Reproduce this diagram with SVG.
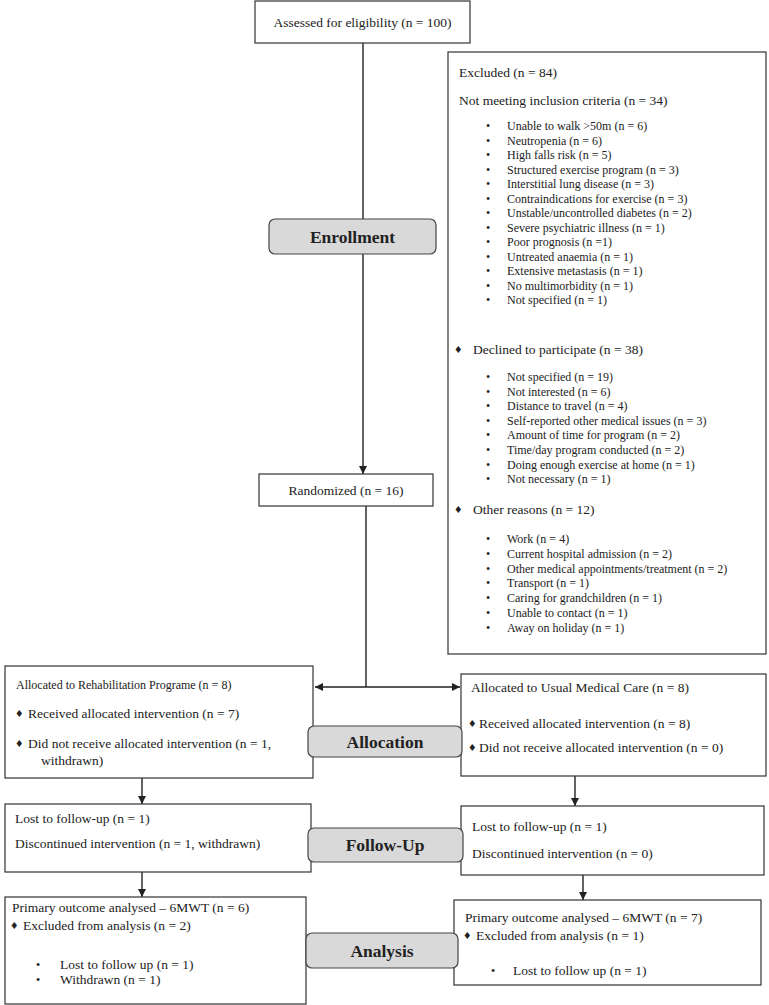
<svg xmlns="http://www.w3.org/2000/svg" width="769" height="1005" viewBox="0 0 769 1005">
<style>
text{font-family:"Liberation Serif","Times New Roman",serif;fill:#222}
.box{fill:#fff;stroke:#333;stroke-width:1.2}
.lbl{fill:#d9d9d9;stroke:#444;stroke-width:1.2}
.lt{font-size:17.5px;font-weight:bold;text-anchor:middle}
.h{font-size:13.5px}
.s{font-size:12px}
.d{font-size:9.5px;font-family:"DejaVu Sans",sans-serif}
.c{fill:none;stroke:#222;stroke-width:1.4}
</style>
<defs>
<marker id="ah" viewBox="0 0 10 10" refX="10" refY="5" markerWidth="8" markerHeight="8" markerUnits="userSpaceOnUse" orient="auto-start-reverse">
<path d="M0,0 L10,5 L0,10 z" fill="#222"/>
</marker>
</defs>
<g id="connectors">
<line class="c" x1="363" y1="43" x2="363" y2="474" marker-end="url(#ah)"/>
<line class="c" x1="366" y1="506" x2="366" y2="687"/>
<line class="c" x1="315" y1="687" x2="460" y2="687" marker-start="url(#ah)" marker-end="url(#ah)"/>
<line class="c" x1="142" y1="778" x2="142" y2="804" marker-end="url(#ah)"/>
<line class="c" x1="142" y1="872" x2="142" y2="897" marker-end="url(#ah)"/>
<line class="c" x1="575" y1="776" x2="575" y2="806" marker-end="url(#ah)"/>
<line class="c" x1="583" y1="875" x2="583" y2="900" marker-end="url(#ah)"/>
</g>
<g id="assessed">
<rect class="box" x="255" y="1" width="215" height="42"/>
<text class="h" x="362.5" y="27" text-anchor="middle">Assessed for eligibility (n = 100)</text>
</g>
<g id="enrollment">
<rect class="lbl" x="269" y="219" width="167" height="35" rx="6"/>
<text class="lt" x="352.5" y="243">Enrollment</text>
</g>
<g id="excluded">
<rect class="box" x="448" y="52" width="318" height="602"/>
<text class="h" x="459" y="77">Excluded (n = 84)</text>
<text class="h" x="459" y="105">Not meeting inclusion criteria (n = 34)</text>
<g class="s">
<text x="486" y="130">•</text><text x="507" y="130">Unable to walk &gt;50m (n = 6)</text>
<text x="486" y="144.5">•</text><text x="507" y="144.5">Neutropenia (n = 6)</text>
<text x="486" y="159">•</text><text x="507" y="159">High falls risk (n = 5)</text>
<text x="486" y="173.5">•</text><text x="507" y="173.5">Structured exercise program (n = 3)</text>
<text x="486" y="188">•</text><text x="507" y="188">Interstitial lung disease (n = 3)</text>
<text x="486" y="202.5">•</text><text x="507" y="202.5">Contraindications for exercise (n = 3)</text>
<text x="486" y="217">•</text><text x="507" y="217">Unstable/uncontrolled diabetes (n = 2)</text>
<text x="486" y="231.5">•</text><text x="507" y="231.5">Severe psychiatric illness (n = 1)</text>
<text x="486" y="246">•</text><text x="507" y="246">Poor prognosis (n =1)</text>
<text x="486" y="260.5">•</text><text x="507" y="260.5">Untreated anaemia (n = 1)</text>
<text x="486" y="275">•</text><text x="507" y="275">Extensive metastasis (n = 1)</text>
<text x="486" y="289.5">•</text><text x="507" y="289.5">No multimorbidity (n = 1)</text>
<text x="486" y="304">•</text><text x="507" y="304">Not specified (n = 1)</text>
</g>
<text class="d" x="454" y="352.5">♦</text>
<text class="h" x="473" y="353.5">Declined to participate (n = 38)</text>
<g class="s">
<text x="486" y="381">•</text><text x="507" y="381">Not specified (n = 19)</text>
<text x="486" y="395.6">•</text><text x="507" y="395.6">Not interested (n = 6)</text>
<text x="486" y="410.2">•</text><text x="507" y="410.2">Distance to travel (n = 4)</text>
<text x="486" y="424.8">•</text><text x="507" y="424.8">Self-reported other medical issues (n = 3)</text>
<text x="486" y="439.4">•</text><text x="507" y="439.4">Amount of time for program (n = 2)</text>
<text x="486" y="454">•</text><text x="507" y="454">Time/day program conducted (n = 2)</text>
<text x="486" y="468.6">•</text><text x="507" y="468.6">Doing enough exercise at home (n = 1)</text>
<text x="486" y="483.2">•</text><text x="507" y="483.2">Not necessary (n = 1)</text>
</g>
<text class="d" x="454" y="512.5">♦</text>
<text class="h" x="473" y="513.5">Other reasons (n = 12)</text>
<g class="s">
<text x="486" y="543">•</text><text x="507" y="543">Work (n = 4)</text>
<text x="486" y="557.8">•</text><text x="507" y="557.8">Current hospital admission (n = 2)</text>
<text x="486" y="572.6">•</text><text x="507" y="572.6">Other medical appointments/treatment (n = 2)</text>
<text x="486" y="587.4">•</text><text x="507" y="587.4">Transport (n = 1)</text>
<text x="486" y="602.2">•</text><text x="507" y="602.2">Caring for grandchildren (n = 1)</text>
<text x="486" y="617">•</text><text x="507" y="617">Unable to contact (n = 1)</text>
<text x="486" y="631.8">•</text><text x="507" y="631.8">Away on holiday (n = 1)</text>
</g>
</g>
<g id="randomized">
<rect class="box" x="259" y="474" width="174" height="32"/>
<text class="h" x="346" y="494.5" text-anchor="middle">Randomized (n = 16)</text>
</g>
<g id="alloc-rehab">
<rect class="box" x="5" y="666" width="308" height="112"/>
<text class="s" x="16" y="689">Allocated to Rehabilitation Programe (n = 8)</text>
<text class="d" x="15" y="716.5">♦</text>
<text class="h" x="28" y="717.5">Received allocated intervention (n = 7)</text>
<text class="d" x="15" y="746.5">♦</text>
<text class="h" x="28" y="747.5">Did not receive allocated intervention (n = 1,</text>
<text class="h" x="41" y="764.5">withdrawn)</text>
</g>
<g id="alloc-usual">
<rect class="box" x="461" y="674" width="305" height="102"/>
<text class="h" x="471" y="691.5">Allocated to Usual Medical Care (n = 8)</text>
<text class="d" x="468" y="726.5">♦</text>
<text class="h" x="479" y="727.5">Received allocated intervention (n = 8)</text>
<text class="d" x="468" y="750.5">♦</text>
<text class="h" x="479" y="751.5">Did not receive allocated intervention (n = 0)</text>
</g>
<g id="allocation">
<rect class="lbl" x="308" y="726" width="154" height="31" rx="6"/>
<text class="lt" x="385" y="747.5">Allocation</text>
</g>
<g id="followup-rehab">
<rect class="box" x="5" y="804" width="306" height="68"/>
<text class="h" x="15" y="822.5">Lost to follow-up (n = 1)</text>
<text class="h" x="15" y="847.5">Discontinued intervention (n = 1, withdrawn)</text>
</g>
<g id="followup-usual">
<rect class="box" x="461" y="806" width="303" height="69"/>
<text class="h" x="472" y="830.5">Lost to follow-up (n = 1)</text>
<text class="h" x="472" y="857.5">Discontinued intervention (n = 0)</text>
</g>
<g id="followup">
<rect class="lbl" x="308" y="828" width="155" height="34" rx="6"/>
<text class="lt" x="385" y="851">Follow-Up</text>
</g>
<g id="analysis-rehab">
<rect class="box" x="5" y="897" width="301" height="107"/>
<text class="h" x="12" y="911.5">Primary outcome analysed – 6MWT (n = 6)</text>
<text class="d" x="10" y="928.5">♦</text>
<text class="h" x="23" y="929.5">Excluded from analysis (n = 2)</text>
<text class="s" x="36" y="969">•</text><text class="h" x="60" y="969">Lost to follow up (n = 1)</text>
<text class="s" x="36" y="984">•</text><text class="h" x="60" y="984">Withdrawn (n = 1)</text>
</g>
<g id="analysis-usual">
<rect class="box" x="454" y="900" width="307" height="85"/>
<text class="h" x="465" y="921.5">Primary outcome analysed – 6MWT (n = 7)</text>
<text class="d" x="463" y="938.5">♦</text>
<text class="h" x="476" y="939.5">Excluded from analysis (n = 1)</text>
<text class="s" x="491" y="974.5">•</text><text class="h" x="513" y="974.5">Lost to follow up (n = 1)</text>
</g>
<g id="analysis">
<rect class="lbl" x="306" y="933" width="152" height="35" rx="6"/>
<text class="lt" x="382" y="957">Analysis</text>
</g>
</svg>
